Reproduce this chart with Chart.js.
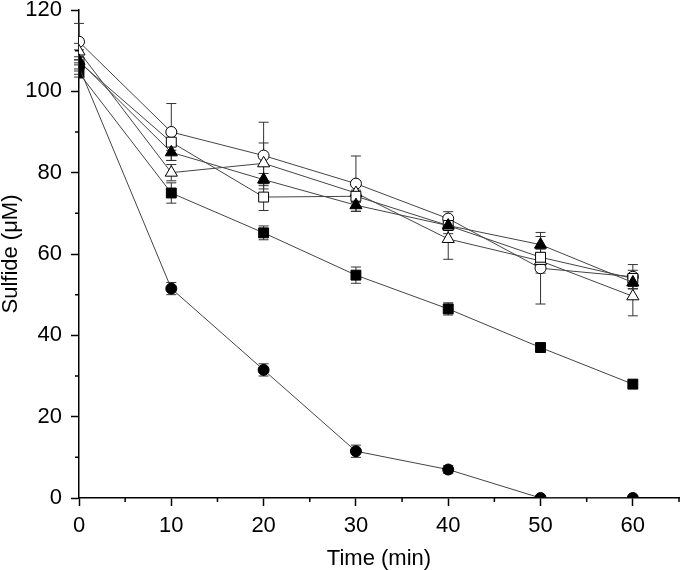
<!DOCTYPE html>
<html lang="en">
<head>
    <meta charset="UTF-8">
    <title>Sulfide vs Time</title>
    <script src="https://cdn.jsdelivr.net/npm/chart.js"></script>
    <style>
        html, body { margin: 0; padding: 0; background: #fff; }
        #wrap { width: 680px; height: 570px; }
    </style>
</head>
<body>
    <div id="wrap"><canvas id="sulfideChart" width="680" height="570"></canvas></div>

    <script>
        // Data
        const times = [0, 10, 20, 30, 40, 50, 60];

        const filledCircle    = [106, 51.5, 31.5, 11.5, 7, 0, 0];
        const filledCircleErr = [1, 1.5, 1.5, 1.5, 1, 0, 0];

        const filledSquare    = [104.5, 75, 65.2, 54.8, 46.5, 37, 28];
        const filledSquareErr = [1, 2.5, 1.7, 2, 1.5, 1, 1];

        const filledTriangle    = [107.5, 85, 78.3, 72, 67, 62.3, 53];
        const filledTriangleErr = [1, 2, 1.5, 1.5, 1, 2, 1.5];

        const openCircle    = [112.2, 90, 84.2, 77.3, 68.7, 56.5, 54.4];
        const openCircleErr = [4.5, 7, 8.2, 6.8, 1.7, 8.8, 3];

        const openSquare    = [107.2, 87.5, 74, 74.2, 67, 59.2, 54];
        const openSquareErr = [3, 2, 3.3, 1.5, 2, 2, 2];

        const openTriangle    = [109.8, 80, 82.3, 75, 63.7, 58.3, 49.6];
        const openTriangleErr = [2, 2, 5, 2, 5, 3, 4.8];

        function toPoints(values) {
            return values.map((v, i) => ({ x: times[i], y: v }));
        }

        function series(values, errors, style, filled, radius) {
            return {
                data: toPoints(values),
                errors: errors,
                borderColor: "#444",
                borderWidth: 1,
                pointStyle: style,
                pointRadius: radius,
                pointBorderWidth: 1,
                pointBackgroundColor: filled ? "#000" : "#fff",
                pointBorderColor: "#000",
                tension: 0
            };
        }

        // error bars and minor ticks, drawn through the chart scales
        const errorBars = {
            id: "errorBars",
            beforeDatasetsDraw(chart) {
                const { ctx, scales: { x, y } } = chart;
                ctx.save();
                ctx.strokeStyle = "#333";
                ctx.lineWidth = 1;
                chart.data.datasets.forEach(ds => {
                    ds.data.forEach((p, i) => {
                        const e = ds.errors[i];
                        if (!e) return;
                        const px = x.getPixelForValue(p.x);
                        const top = y.getPixelForValue(p.y + e);
                        const bot = y.getPixelForValue(p.y - e);
                        ctx.beginPath();
                        ctx.moveTo(px, top); ctx.lineTo(px, bot);
                        ctx.moveTo(px - 5, top); ctx.lineTo(px + 5, top);
                        ctx.moveTo(px - 5, bot); ctx.lineTo(px + 5, bot);
                        ctx.stroke();
                    });
                });
                ctx.restore();
            },
            afterDraw(chart) {
                const { ctx, scales: { x, y } } = chart;
                ctx.save();
                ctx.strokeStyle = "#000";
                ctx.lineWidth = 1.5;
                ctx.beginPath();
                for (let v = 5; v <= 65; v += 10) {
                    const px = x.getPixelForValue(v);
                    ctx.moveTo(px, y.bottom); ctx.lineTo(px, y.bottom + 4);
                }
                for (let v = 10; v <= 110; v += 20) {
                    const py = y.getPixelForValue(v);
                    ctx.moveTo(x.left - 4, py); ctx.lineTo(x.left, py);
                }
                ctx.stroke();
                ctx.restore();
            }
        };

        const ctx = document.getElementById("sulfideChart").getContext("2d");
        const font = { family: "'Liberation Sans', Arial, sans-serif", size: 22, lineHeight: 1 };

        new Chart(ctx, {
            type: "line",
            data: {
                datasets: [
                    series(filledCircle, filledCircleErr, "circle", true, 5.5),
                    series(filledSquare, filledSquareErr, "rect", true, 7),
                    series(filledTriangle, filledTriangleErr, "triangle", true, 7),
                    series(openSquare, openSquareErr, "rect", false, 7),
                    series(openTriangle, openTriangleErr, "triangle", false, 7),
                    series(openCircle, openCircleErr, "circle", false, 5.5)
                ]
            },
            options: {
                responsive: false,
                animation: false,
                layout: { autoPadding: false, padding: { top: 0, right: 1, bottom: 0, left: 0 } },
                plugins: { legend: { display: false }, tooltip: { enabled: false } },
                scales: {
                    x: {
                        type: "linear",
                        min: 0,
                        max: 65,
                        afterFit(scale) {
                            scale.height = 72;
                            scale.paddingRight = 0;
                            scale.paddingLeft = 0;
                        },
                        border: { color: "#000", width: 1.5 },
                        grid: {
                            drawOnChartArea: false,
                            tickLength: 8,
                            tickWidth: 1.5,
                            tickColor: c => (c.tick && c.tick.value % 10 === 0) ? "#000" : "rgba(0,0,0,0)"
                        },
                        ticks: {
                            stepSize: 5,
                            autoSkip: false,
                            maxRotation: 0,
                            padding: 9,
                            color: "#000",
                            font: font,
                            callback: v => (v % 10 === 0 ? v : "")
                        },
                        title: {
                            display: true,
                            text: "Time (min)",
                            color: "#000",
                            font: font,
                            padding: { top: 0, bottom: 0 }
                        }
                    },
                    y: {
                        min: 0,
                        max: 120,
                        afterFit(scale) {
                            scale.width = 79;
                            scale.paddingTop = 10;
                            scale.paddingBottom = 0;
                        },
                        border: { color: "#000", width: 1.5 },
                        grid: {
                            drawOnChartArea: false,
                            tickLength: 8,
                            tickWidth: 1.5,
                            tickColor: c => (c.tick && c.tick.value % 20 === 0) ? "#000" : "rgba(0,0,0,0)"
                        },
                        ticks: {
                            stepSize: 10,
                            autoSkip: false,
                            padding: 9,
                            color: "#000",
                            font: font,
                            callback: v => (v % 20 === 0 ? v : "")
                        },
                        title: {
                            display: true,
                            text: "Sulfide (\u03bcM)",
                            color: "#000",
                            font: font,
                            padding: { top: 0, bottom: 0 }
                        }
                    }
                }
            },
            plugins: [errorBars]
        });
    </script>
</body>
</html>
